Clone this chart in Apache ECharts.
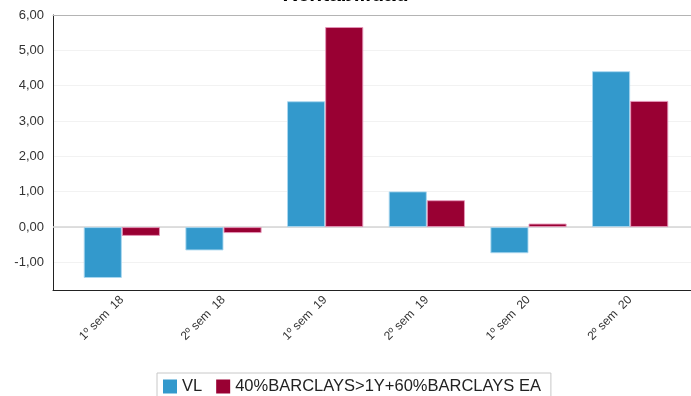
<!DOCTYPE html>
<html>
<head>
<meta charset="utf-8">
<script src="https://cdn.jsdelivr.net/npm/echarts@6/dist/echarts.min.js"></script>
<style>
  html, body { margin: 0; padding: 0; background: #fff; }
  #chart { width: 691px; height: 396px; }
</style>
</head>
<body>
<div id="chart"></div>
<script>
// Half-year returns of the fund (VL) against its benchmark
const categories = ['1º sem  18', '2º sem  18', '1º sem  19', '2º sem  19', '1º sem  20', '2º sem  20'];
const seriesNames = ['VL', '40%BARCLAYS>1Y+60%BARCLAYS EA'];
const vlValues = [-1.44, -0.66, 3.56, 1.01, -0.74, 4.41];
const benchValues = [-0.25, -0.17, 5.66, 0.76, 0.10, 3.57];
const yMin = -1.78;
const yMax = 6;

const FONT = 'Liberation Sans, Arial, sans-serif';
const fmt = v => v.toFixed(2).replace('.', ',');

const chart = echarts.init(document.getElementById('chart'), null, { renderer: 'canvas' });

chart.setOption({
  animation: false,
  backgroundColor: '#fff',
  title: {
    text: 'Rentabilidad',
    left: 'center',
    top: -20,
    textStyle: { fontFamily: FONT, fontSize: 21, fontWeight: 'bold', color: '#000' }
  },
  legend: {
    data: seriesNames,
    top: 373,
    left: 157,
    itemWidth: 14,
    itemHeight: 14,
    itemGap: 14,
    padding: [5, 10, 5, 6],
    borderColor: '#c8c8c8',
    borderWidth: 1,
    borderRadius: 0,
    icon: 'rect',
    itemStyle: { borderWidth: 0 },
    textStyle: { fontFamily: FONT, fontSize: 16.5, color: '#222' }
  },
  grid: [
    // frame: axes, gridlines and labels
    { left: 53, right: 0, top: 15, bottom: 106, containLabel: false },
    // bars
    { left: 71, right: 10, top: 15, bottom: 106, containLabel: false }
  ],
  xAxis: [
    {
      gridIndex: 0, type: 'value', min: 0, max: 1, position: 'bottom',
      axisLine: { show: true, onZero: false, lineStyle: { color: '#222', width: 1 } },
      axisTick: { show: false }, axisLabel: { show: false }, splitLine: { show: false }
    },
    {
      gridIndex: 0, type: 'value', min: 0, max: 1, position: 'top',
      axisLine: { show: true, onZero: false, lineStyle: { color: '#b4b4b4', width: 1 } },
      axisTick: { show: false }, axisLabel: { show: false }, splitLine: { show: false }
    },
    {
      gridIndex: 1, type: 'category', data: categories,
      axisLine: { show: false, onZero: false }, axisTick: { show: false }, splitLine: { show: false },
      axisLabel: {
        rotate: 45, margin: 8, interval: 0,
        fontFamily: FONT, fontSize: 12, color: '#333'
      }
    }
  ],
  yAxis: [
    {
      gridIndex: 0, type: 'value', min: yMin, max: yMax, splitNumber: 8,
      axisLine: { show: true, onZero: false, lineStyle: { color: '#222', width: 1 } },
      axisTick: { show: false },
      axisLabel: {
        showMinLabel: false, margin: 9,
        fontFamily: FONT, fontSize: 13, color: '#333',
        formatter: fmt
      },
      splitLine: { show: true, lineStyle: { color: '#f2f2f2', width: 1 } }
    },
    {
      gridIndex: 1, type: 'value', min: yMin, max: yMax, splitNumber: 8,
      axisLine: { show: false }, axisTick: { show: false },
      axisLabel: { show: false }, splitLine: { show: false }
    }
  ],
  series: [
    {
      // zero baseline across the whole plot
      type: 'line', xAxisIndex: 0, yAxisIndex: 0,
      data: [[0, 0], [1, 0]], symbol: 'none', silent: true, z: 1,
      lineStyle: { color: '#d4d4d4', width: 1.5 }
    },
    {
      name: seriesNames[0], type: 'bar', xAxisIndex: 2, yAxisIndex: 1,
      data: vlValues, barGap: '0%', barCategoryGap: '25%', z: 3,
      itemStyle: { color: '#3399cc', borderColor: 'rgba(170,215,240,0.9)', borderWidth: 1 }
    },
    {
      name: seriesNames[1], type: 'bar', xAxisIndex: 2, yAxisIndex: 1,
      data: benchValues, barGap: '0%', barCategoryGap: '25%', z: 3,
      itemStyle: { color: '#990033', borderColor: 'rgba(230,150,185,0.9)', borderWidth: 1 }
    }
  ]
});
</script>
</body>
</html>
